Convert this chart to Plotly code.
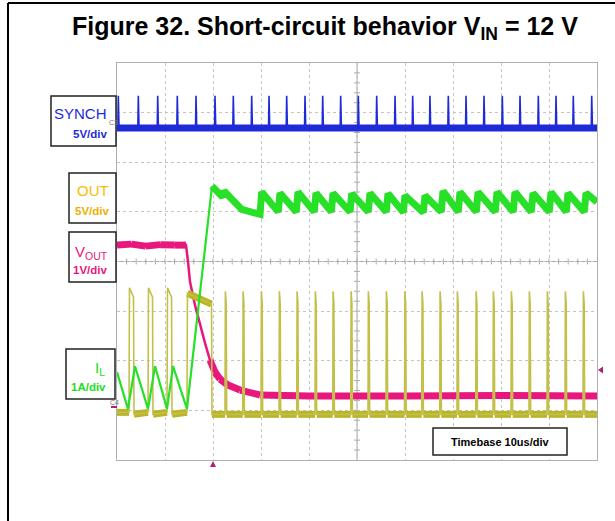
import plotly.graph_objects as go

W, H = 615, 521

# ---------------- data (time in us, amplitude in screen divisions) ----------------
SYNCH_BASE = 2.69
SYNCH_TOP = 3.34
SYNCH_SPIKE_T = [0.27, 4.44, 8.48, 12.56, 16.46, 20.42, 24.23, 28.06, 31.67, 35.35,
                 39.17, 42.85, 46.6, 50.27, 54.1, 57.92, 61.6, 65.2, 69.02, 72.71,
                 76.46, 80.27, 83.96, 87.77, 91.46, 95.06, 98.9]

OUT_LOW_PRE = -3.04
OUT_LOW_POST = -3.08
OUT_PULSE_RISE = [2.5, 6.46, 10.42, 14.58]
OUT_PULSE_FALL = [3.54, 7.5, 11.46, 19.79]
OUT_PULSE_TOP_START = [-0.53, -0.53, -0.53, -0.64]
OUT_PULSE_TOP_END = [-0.72, -0.72, -0.72, -0.86]
OUT_SPIKE_T = [22.5, 26.19, 30.0, 33.75, 37.44, 41.25, 44.94, 48.69, 52.29, 56.04,
               59.9, 63.48, 67.23, 70.83, 74.73, 78.33, 82.08, 85.83, 89.58, 93.33, 97.08]
OUT_SPIKE_TOP = -0.6

VOUT_T = [0, 3, 6, 9, 12, 14.38, 14.79, 15.21, 16.25, 17.29, 18.33, 19.38, 20.42,
          21.46, 23.13, 25.63, 29.79, 40, 60, 80, 100]
VOUT_Y = [0.33, 0.35, 0.31, 0.34, 0.33, 0.33, 0.0, -0.41, -0.88, -1.28, -1.64, -1.99,
          -2.23, -2.37, -2.49, -2.59, -2.69, -2.71, -2.71, -2.70, -2.71]

IL_PRE_T = [0, 2.29, 3.75, 6.46, 7.92, 10.42, 11.67, 14.58, 19.79]
IL_PRE_Y = [-2.23, -2.97, -2.11, -2.97, -2.11, -2.97, -2.11, -2.97, 1.52]
IL_POST_T = [19.79, 22.0, 22.29, 26.0, 29.8, 30.15, 33.6, 33.96, 37.35, 37.71, 41.1, 41.46,
             44.65, 45.0, 48.55, 48.9, 52.35, 52.71, 56.1, 56.46, 59.65, 60.0, 63.8, 64.17,
             67.55, 67.92, 71.1, 71.46, 74.85, 75.21, 78.8, 79.17, 82.55, 82.92, 86.3, 86.67,
             90.05, 90.42, 93.6, 93.96, 97.35, 97.71, 100]
IL_POST_Y = [1.52, 1.30, 1.42, 1.05, 0.95, 1.40, 1.0, 1.38, 1.0, 1.40, 1.0, 1.38,
             1.0, 1.38, 1.0, 1.37, 1.0, 1.38, 1.0, 1.37, 0.99, 1.33, 0.99, 1.33,
             1.0, 1.42, 1.0, 1.40, 1.0, 1.40, 1.0, 1.40, 1.0, 1.40, 1.0, 1.38,
             1.0, 1.40, 1.0, 1.38, 1.0, 1.38, 1.2]

# ---------------- colours / fonts ----------------
BLUE = "#1f2bd8"
YEL = "#b9b428"
YEL_THIN = "#c3c04a"
MAG = "#e8177d"
GRN = "#27e027"
FONT = "Liberation Sans, Arial, Helvetica, sans-serif"

# ---------------- build waveforms ----------------
syn_t, syn_y = [0.0], [SYNCH_BASE]
for t in SYNCH_SPIKE_T:
    syn_t += [max(t - 0.1, 0), t, t + 0.15]
    syn_y += [SYNCH_BASE, SYNCH_TOP, SYNCH_BASE]
syn_t.append(100.0); syn_y.append(SYNCH_BASE)

out_t, out_y = [0.0], [OUT_LOW_PRE]
for r, f, a, b in zip(OUT_PULSE_RISE, OUT_PULSE_FALL, OUT_PULSE_TOP_START, OUT_PULSE_TOP_END):
    out_t += [r, r + 0.1, f - 0.1, f]
    out_y += [OUT_LOW_PRE, a, b, OUT_LOW_POST]
for t in OUT_SPIKE_T:
    out_t += [t, t + 0.08, t + 0.25, t + 0.35]
    out_y += [OUT_LOW_POST, OUT_SPIKE_TOP, OUT_SPIKE_TOP - 0.25, OUT_LOW_POST]
out_t.append(100.0); out_y.append(OUT_LOW_POST)


def band(ts, ys, cond):
    bx, by = [], []
    for i in range(len(ts) - 1):
        if cond(ts[i], ys[i], ts[i + 1], ys[i + 1]):
            bx += [ts[i], ts[i + 1], None]
            by += [ys[i], ys[i + 1], None]
    return bx, by


out_bx, out_by = band(out_t, out_y, lambda t0, y0, t1, y1: (t1 - t0) > 1.2)
mag_bx, mag_by = band(VOUT_T, VOUT_Y, lambda t0, y0, t1, y1: abs((y1 - y0) / (t1 - t0)) < 0.3)

fig = go.Figure()
fig.add_trace(go.Scatter(x=VOUT_T, y=VOUT_Y, mode="lines", line=dict(color=MAG, width=2.5)))
fig.add_trace(go.Scatter(x=mag_bx, y=mag_by, mode="lines", line=dict(color=MAG, width=7)))
fig.add_trace(go.Scatter(x=out_bx, y=out_by, mode="lines", line=dict(color=YEL, width=7)))
fig.add_trace(go.Scatter(x=out_t, y=out_y, mode="lines", line=dict(color=YEL_THIN, width=1.6)))
fig.add_trace(go.Scatter(x=IL_PRE_T, y=IL_PRE_Y, mode="lines", line=dict(color=GRN, width=2.2)))
fig.add_trace(go.Scatter(x=IL_POST_T, y=IL_POST_Y, mode="lines", line=dict(color=GRN, width=7)))
fig.add_trace(go.Scatter(x=[0, 100], y=[SYNCH_BASE, SYNCH_BASE], mode="lines", line=dict(color=BLUE, width=7)))
fig.add_trace(go.Scatter(x=syn_t, y=syn_y, mode="lines", line=dict(color=BLUE, width=1.6)))

# ---------------- layout ----------------
X0, X1, Y0, Y1 = 117, 597, 63, 460


def px(x):
    return x / W


def py(y):
    return 1 - y / H


shapes = []
shapes.append(dict(type="line", xref="x", yref="y", x0=50, x1=50, y0=-4, y1=4,
                   line=dict(color="#a8a8a8", width=1), layer="below"))
shapes.append(dict(type="line", xref="x", yref="y", x0=0, x1=100, y0=0, y1=0,
                   line=dict(color="#a8a8a8", width=1), layer="below"))
for i in range(1, 50):
    t = i * 2
    shapes.append(dict(type="line", xref="x", yref="y", x0=t, x1=t, y0=-0.06, y1=0.06,
                       line=dict(color="#a8a8a8", width=1), layer="below"))
for i in range(1, 40):
    v = -4 + i * 0.2
    shapes.append(dict(type="line", xref="x", yref="y", x0=49.4, x1=50.6, y0=v, y1=v,
                       line=dict(color="#a8a8a8", width=1), layer="below"))

# page frame
shapes.append(dict(type="line", xref="paper", yref="paper", x0=px(8), x1=px(8), y0=py(3), y1=py(521),
                   line=dict(color="black", width=2)))
shapes.append(dict(type="line", xref="paper", yref="paper", x0=px(8), x1=px(615), y0=py(3), y1=py(3),
                   line=dict(color="black", width=2)))

for (a, b, c, d) in [(51, 96, 116, 146), (69, 173, 116, 223), (69, 232, 116, 282),
                     (66, 349, 115, 399), (433, 428, 567, 455)]:
    shapes.append(dict(type="rect", xref="paper", yref="paper", x0=px(a), x1=px(c), y0=py(d), y1=py(b),
                       line=dict(color="#222222", width=1.5), fillcolor="white"))

shapes.append(dict(type="path", xref="paper", yref="paper",
                   path=f"M {px(598)},{py(370)} L {px(603)},{py(366.5)} L {px(603)},{py(373.5)} Z",
                   fillcolor="#b0206e", line=dict(width=0)))
shapes.append(dict(type="path", xref="paper", yref="paper",
                   path=f"M {px(213)},{py(461)} L {px(210)},{py(467)} L {px(216)},{py(467)} Z",
                   fillcolor="#b0206e", line=dict(width=0)))
shapes.append(dict(type="line", xref="paper", yref="paper", x0=px(111), x1=px(117), y0=py(407), y1=py(407),
                   line=dict(color="#b0206e", width=2)))

ann = []


def text(s, x, y, size, color, xanchor="center", bold=False):
    ann.append(dict(text=(f"<b>{s}</b>" if bold else s), x=px(x), y=py(y), xref="paper", yref="paper",
                    xanchor=xanchor, yanchor="middle", showarrow=False,
                    font=dict(family=FONT, size=size, color=color)))


text("Figure 32. Short-circuit behavior V<sub>IN</sub> = 12 V", 325, 28, 25, "black", bold=True)
text("SYNCH", 109, 113, 15, BLUE, xanchor="right")
text("5V/div", 109, 134, 11.5, BLUE, xanchor="right", bold=True)
text("OUT", 111, 190, 15, "#f6be00", xanchor="right")
text("5V/div", 111, 211, 11.5, "#f0b000", xanchor="right", bold=True)
text("V<sub>OUT</sub>", 110, 252, 15, MAG, xanchor="right")
text("1V/div", 109, 270, 11.5, MAG, xanchor="right", bold=True)
text("I<sub>L</sub>", 107, 368, 15, "#22dd22", xanchor="right")
text("1A/div", 108, 387, 11.5, "#22dd22", xanchor="right", bold=True)
text("Timebase 10us/div", 500, 441.5, 11, "black", bold=True)
text("C3", 113, 122, 7, "#777777")
text("C4", 114, 402, 7, "#777777")

fig.update_layout(
    width=W, height=H, margin=dict(l=0, r=0, t=0, b=0),
    paper_bgcolor="white", plot_bgcolor="white", showlegend=False,
    xaxis=dict(domain=[X0 / W, X1 / W], range=[0, 100], dtick=10, tick0=0, showgrid=True,
               gridcolor="#c4c4c4", griddash="dot", gridwidth=1, zeroline=False,
               showticklabels=False, ticks="", showline=True, mirror=True,
               linecolor="#b0b0b0", linewidth=1, fixedrange=True),
    yaxis=dict(domain=[1 - Y1 / H, 1 - Y0 / H], range=[-4, 4], dtick=1, tick0=0, showgrid=True,
               gridcolor="#c4c4c4", griddash="dot", gridwidth=1, zeroline=False,
               showticklabels=False, ticks="", showline=True, mirror=True,
               linecolor="#b0b0b0", linewidth=1, fixedrange=True),
    shapes=shapes, annotations=ann,
)

fig.write_html("out.html", config={"displayModeBar": False},
               post_script="document.body.style.margin='0';document.body.style.overflow='hidden';")
